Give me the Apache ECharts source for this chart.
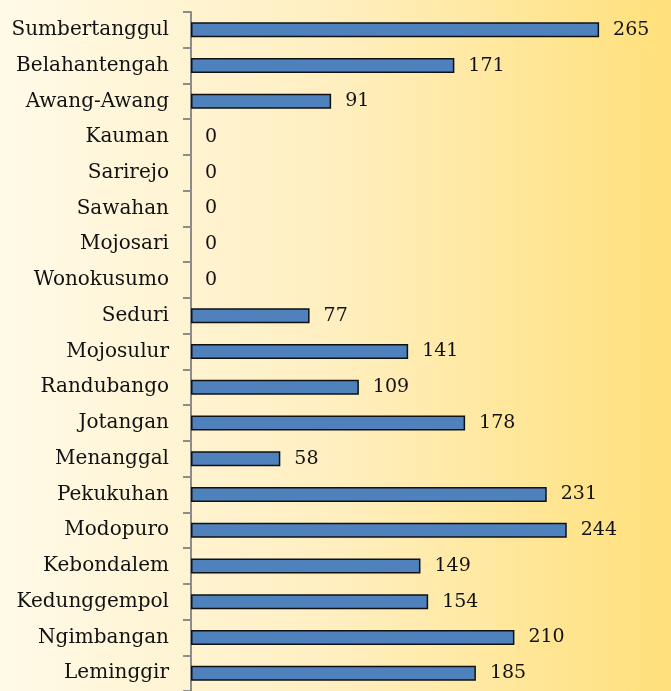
<!DOCTYPE html>
<html><head><meta charset="utf-8">
<script src="https://cdn.jsdelivr.net/npm/echarts@6/dist/echarts.min.js"></script>
<style>html,body{margin:0;padding:0;}#c{width:671px;height:691px;}</style>
</head><body><div id="c"></div>
<script>
var categories = ["Sumbertanggul","Belahantengah","Awang-Awang","Kauman","Sarirejo","Sawahan","Mojosari","Wonokusumo","Seduri","Mojosulur","Randubango","Jotangan","Menanggal","Pekukuhan","Modopuro","Kebondalem","Kedunggempol","Ngimbangan","Leminggir"];
var values = [265,171,91,0,0,0,0,0,77,141,109,178,58,231,244,149,154,210,185];

var chart = echarts.init(document.getElementById('c'));
chart.setOption({
  backgroundColor: new echarts.graphic.LinearGradient(0,0,1,0,[
    {offset:0,color:'#FFFAE8'},{offset:0.5,color:'#FFEFC0'},{offset:1,color:'#FFE07A'}]),
  animation:false,
  grid:{left:191, top:12, width:462, height:683},
  xAxis:{type:'value', min:0, max:300, show:false},
  yAxis:{type:'category', data:categories, inverse:true,
    axisLine:{show:true, lineStyle:{color:'#8C8C8C', width:2}},
    axisTick:{show:true, length:8, lineStyle:{color:'#8C8C8C', width:2}},
    axisLabel:{color:'#111', fontFamily:'DejaVu Serif', fontSize:20, margin:22},
    splitLine:{show:false}},
  series:[{type:'bar', barWidth:15,
    data: values.map(function(v){ return v === 0 ? {value:v, itemStyle:{borderWidth:0}} : v; }),
    itemStyle:{color:'#4F81BD', borderColor:'#111', borderWidth:1.5},
    label:{show:true, position:'right', distance:14, color:'#111', fontFamily:'DejaVu Serif', fontSize:19}}]
});
</script></body></html>
